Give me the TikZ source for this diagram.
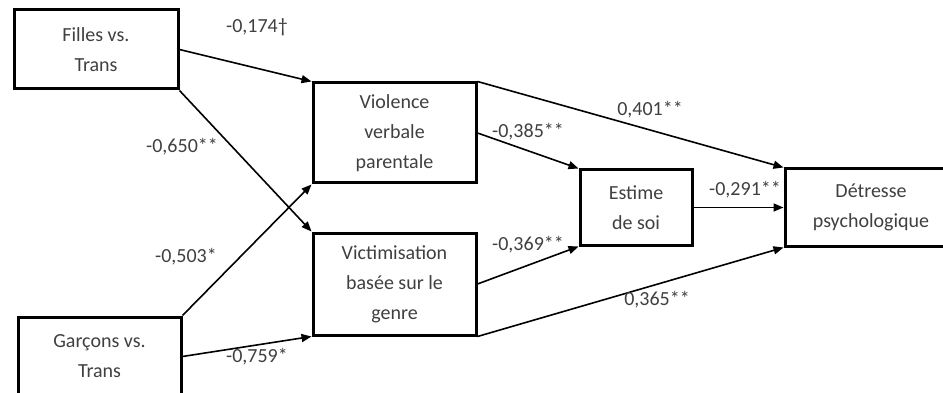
\documentclass[tikz,border=0pt]{standalone}
\usepackage{fontspec}
\setmainfont{Carlito}
\usetikzlibrary{arrows.meta}
\definecolor{texte}{HTML}{404040}

\begin{document}
\begin{tikzpicture}[x=1pt,y=-1pt,
    bloc/.style={draw,line width=3pt,align=center,text=texte,inner sep=0pt,
        font=\fontsize{20}{30}\selectfont},
    fleche/.style={-{Triangle[length=10pt,width=8pt]},line width=1.6pt},
    coef/.style={text=texte,inner sep=0pt,font=\fontsize{20}{24}\selectfont}]
    \path[use as bounding box,fill=white] (0,0) rectangle (943,393);

    \node[bloc,minimum width=164,minimum height=79] (filles) at (96,49.5) {Filles vs.\\Trans};
    \node[bloc,minimum width=163,minimum height=79] (garcons) at (99.5,356.5) {Garçons vs.\\Trans};
    \node[bloc,minimum width=163,minimum height=100] (violence) at (394.5,133) {Violence\\verbale\\parentale};
    \node[bloc,minimum width=163,minimum height=102] (victim) at (394.5,284) {Victimisation\\basée sur le\\genre};
    \node[bloc,minimum width=112,minimum height=75] (estime) at (636,207.5) {Estime\\de soi};
    \node[bloc,minimum width=172,minimum height=77] (detresse) at (871,207.5) {Détresse\\psychologique};

    \draw[fleche] (filles.east) -- (violence.north west);
    \draw[fleche] (filles.south east) -- (victim.north west);
    \draw[fleche] (garcons.north east) -- (violence.south west);
    \draw[fleche] (garcons.east) -- (victim.south west);
    \draw[fleche] (violence.north east) -- (detresse.north west);
    \draw[fleche] (violence.east) -- (estime.north west);
    \draw[fleche] (victim.east) -- (estime.south west);
    \draw[fleche] (victim.south east) -- (detresse.south west);
    \draw[fleche] (estime.east) -- (detresse.west);

    % coefficients
    \node[coef] (c174) at (257,27) {-0,174†};
    \node[coef] (c650) at (182,147) {-0,650**};
    \node[coef] (c503) at (186,257) {-0,503*};
    \node[coef] (c759) at (257,357) {-0,759*};
    \node[coef] (c401) at (650,110) {0,401**};
    \node[coef] (c385) at (528,132) {-0,385**};
    \node[coef] (c369) at (528,245) {-0,369**};
    \node[coef] (c291) at (745,190) {-0,291**};
    \node[coef] (c365) at (657,300) {0,365**};
\end{tikzpicture}
\end{document}
